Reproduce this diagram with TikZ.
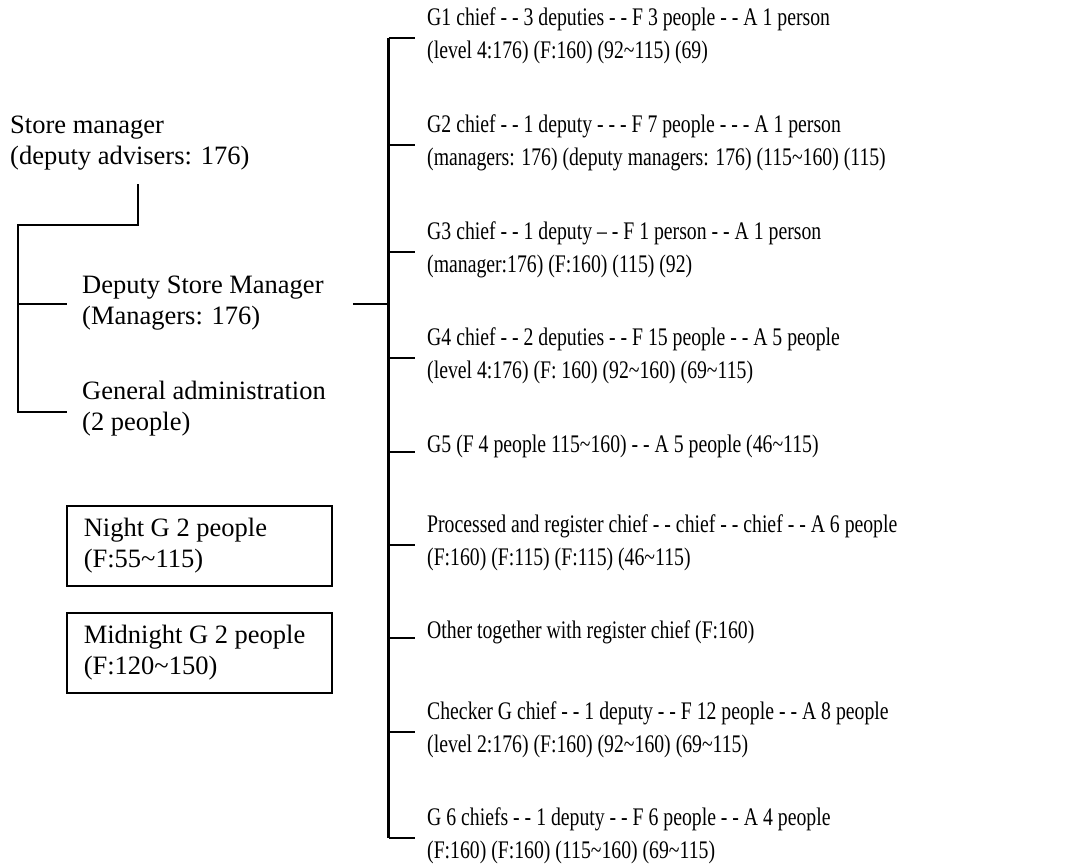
\documentclass[tikz,border=0pt]{standalone}
\usepackage{fontspec}
\setmainfont{Liberation Serif}
\newfontfamily\rfont[FakeStretch=0.78]{Liberation Serif}
\newcommand\twol[2]{\vtop{\hbox{#1}\hbox{#2}}}
\newcommand\tl{\textasciitilde}
\begin{document}
\begin{tikzpicture}[x=1pt,y=-1pt,
  lt/.style={inner sep=0pt, anchor=base west, font=\fontsize{26.5}{31.5}\selectfont},
  rt/.style={inner sep=0pt, anchor=base west, font=\fontsize{25.3}{33}\rfont},
  thinln/.style={line width=1.5pt},
  thickln/.style={line width=2.6pt},
  boxst/.style={draw, line width=1.5pt, inner xsep=17pt, anchor=north west, minimum height=80pt, font=\fontsize{26.5}{31.5}\selectfont}]
\useasboundingbox[fill=white] (0,0) rectangle (1080,865);

% left side
\node[lt] (sm) at (10,133) {\twol{Store manager}{(deputy advisers: 176)}};
\node[lt] (dsm) at (82,293) {\twol{Deputy Store Manager}{(Managers: 176)}};
\node[lt] (ga) at (82,399) {\twol{General administration}{(2 people)}};
\node[boxst] (night) at (66,505) {\makebox[231pt][l]{\twol{Night G 2 people}{(F:55\tl115)}}};
\node[boxst] (midn) at (66,612) {\makebox[231pt][l]{\twol{Midnight G 2 people}{(F:120\tl150)}}};

% right side
\node[rt] (g1) at (427,25.5) {\twol{G1 chief - - 3 deputies - - F 3 people - - A 1 person}{(level 4:176) (F:160) (92\tl115) (69)}};
\node[rt] (g2) at (427,132.5) {\twol{G2 chief - - 1 deputy - - - F 7 people - - - A 1 person}{(managers: 176) (deputy managers: 176) (115\tl160) (115)}};
\node[rt] (g3) at (427,239.5) {\twol{G3 chief - - 1 deputy \textendash\ - F 1 person - - A 1 person}{(manager:176) (F:160) (115) (92)}};
\node[rt] (g4) at (427,345.5) {\twol{G4 chief - - 2 deputies - - F 15 people - - A 5 people}{(level 4:176) (F: 160) (92\tl160) (69\tl115)}};
\node[rt] (g5) at (427,452) {G5 (F 4 people 115\tl160) - - A 5 people (46\tl115)};
\node[rt] (pr) at (427,532.5) {\twol{Processed and register chief - - chief - - chief - - A 6 people}{(F:160) (F:115) (F:115) (46\tl115)}};
\node[rt] (ot) at (427,638) {Other together with register chief (F:160)};
\node[rt] (ch) at (427,719.5) {\twol{Checker G chief - - 1 deputy - - F 12 people - - A 8 people}{(level 2:176) (F:160) (92\tl160) (69\tl115)}};
\node[rt] (g6) at (427,825.5) {\twol{G 6 chiefs - - 1 deputy - - F 6 people - - A 4 people}{(F:160) (F:160) (115\tl160) (69\tl115)}};

% left connectors
\coordinate (smtap) at ([xshift=128pt,yshift=-14pt]sm.south west);
\coordinate (lv) at (18,225);
\coordinate (dsmb) at ([xshift=-15pt,yshift=-11pt]dsm.base west);
\coordinate (gab) at ([xshift=-15pt,yshift=-13pt]ga.base west);
\draw[thinln] (smtap) |- (lv) -- (lv |- gab) -- (gab);
\draw[thinln] (lv |- dsmb) -- (dsmb);

% spine
\coordinate (sp) at (388.5,0);
\coordinate (dsmr) at ([xshift=29pt]dsmb -| dsm.east);
\draw[thickln] (dsmr) -- (sp |- dsmr);

\foreach \n in {g1,g2,g3,g4,pr,ch,g6}{
  \coordinate (\n b) at ([xshift=-12pt,yshift=-12.5pt]\n.base west);
}
\foreach \n in {g5,ot}{
  \coordinate (\n b) at ([xshift=-12pt]\n.base west);
}
\foreach \n in {g1,g2,g3,g4,g5,pr,ot,ch,g6}{
  \draw[thinln] (sp |- \n b) -- (\n b);
}
\draw[thickln] (sp |- g1b) -- (sp |- g6b);
\end{tikzpicture}
\end{document}
